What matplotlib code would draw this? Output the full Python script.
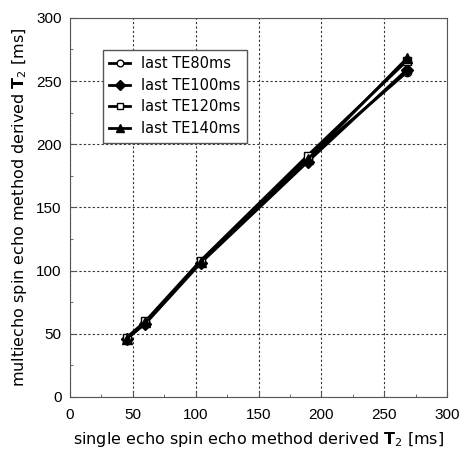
import matplotlib
matplotlib.use("Agg")
import matplotlib.pyplot as plt
from matplotlib.ticker import MultipleLocator

plt.rcParams['font.family'] = ['DejaVu Sans']
plt.rcParams['mathtext.fontset'] = 'dejavusans'

# single echo T2 (x) and multiecho T2 for each last TE
single_t2 = [45, 60, 104, 189, 268]
te80 = [46, 59, 107, 189, 257]
te100 = [46, 58, 106, 186, 259]
te120 = [47, 60, 108, 191, 266]
te140 = [46, 59, 107, 188, 268]

labels = ['last TE80ms', 'last TE100ms', 'last TE120ms', 'last TE140ms']

fig = plt.figure(figsize=(4.59, 4.54), dpi=100)
ax = fig.add_axes([0.1525, 0.1256, 0.8215, 0.835])

ax.plot(single_t2, te80, '-o', color='black', lw=2, ms=6, mfc='white', mec='black', mew=1, label=labels[0])
ax.plot(single_t2, te100, '-D', color='black', lw=2, ms=6, mfc='black', label=labels[1])
ax.plot(single_t2, te120, '-s', color='black', lw=2, ms=6, mfc='white', mec='black', mew=1, label=labels[2])
ax.plot(single_t2, te140, '-^', color='black', lw=2, ms=7, mfc='black', label=labels[3])

ax.set_xlim(0, 300)
ax.set_ylim(0, 300)
ax.xaxis.set_major_locator(MultipleLocator(50))
ax.yaxis.set_major_locator(MultipleLocator(50))
ax.xaxis.set_minor_locator(MultipleLocator(25))
ax.yaxis.set_minor_locator(MultipleLocator(25))
ax.tick_params(which='both', direction='in', color='#555555')
ax.tick_params(which='major', length=4)
ax.tick_params(which='minor', length=2)
ax.tick_params(axis='x', pad=8)
ax.tick_params(axis='y', pad=6)
for lab in ax.get_xticklabels() + ax.get_yticklabels():
    lab.set_fontfamily(['Liberation Sans'])
    lab.set_fontsize(11)
ax.grid(True, which='major', ls=(0, (2, 2)), color='#333333', lw=0.8)
for s in ax.spines.values():
    s.set_color('#555555')

ax.set_xlabel(r'single echo spin echo method derived $\mathbf{T}_2$ [ms]', fontsize=11.5, labelpad=6)
ax.set_ylabel(r'multiecho spin echo method derived $\mathbf{T}_2$ [ms]', fontsize=11.5, labelpad=5)

leg = ax.legend(loc='upper left', bbox_to_anchor=(0.087, 0.916), borderaxespad=0,
                fontsize=10.5, fancybox=False, framealpha=1, edgecolor='#555555',
                handlelength=1.4, handletextpad=0.8, borderpad=0.45,
                labelspacing=0.45, markerscale=0.8)
leg.get_frame().set_linewidth(1)

fig.savefig('out.png', dpi=100)
